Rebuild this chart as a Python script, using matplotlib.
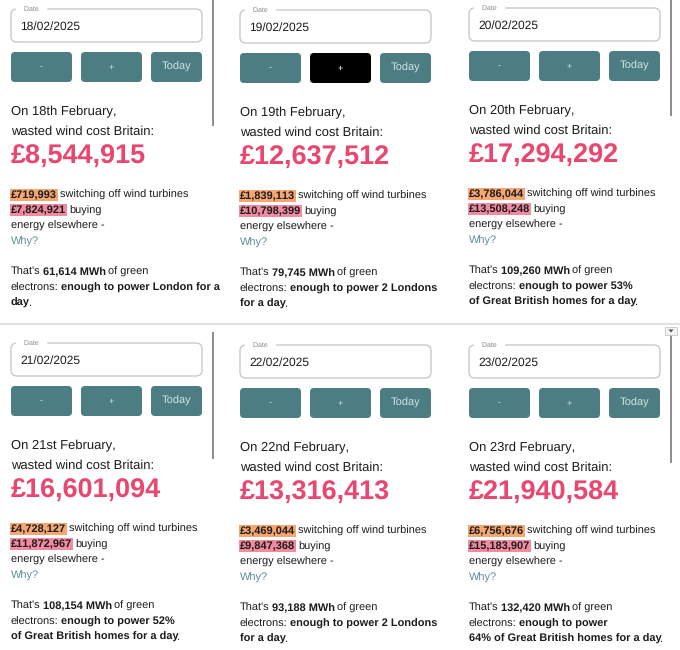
import matplotlib
matplotlib.use('Agg')
import matplotlib.pyplot as plt
from matplotlib.patches import FancyBboxPatch, Rectangle, Polygon

plt.rcParams['font.family'] = ['Liberation Sans', 'DejaVu Sans']
plt.rcParams['text.hinting'] = 'no_hinting'
plt.rcParams['text.hinting_factor'] = 1

# --- data ---
dates = ['18/02/2025', '19/02/2025', '20/02/2025', '21/02/2025', '22/02/2025', '23/02/2025']
day_labels = ['18th', '19th', '20th', '21st', '22nd', '23rd']
total_cost = [8544915, 12637512, 17294292, 16601094, 13316413, 21940584]
switch_off_cost = [719993, 1839113, 3786044, 4728127, 3469044, 6756676]
buying_cost = [7824921, 10798399, 13508248, 11872967, 9847368, 15183907]
mwh = [61614, 79745, 109260, 108154, 93188, 132420]
power_line2 = ['enough to power London for a', 'enough to power 2 Londons', 'enough to power 53%',
               'enough to power 52%', 'enough to power 2 Londons', 'enough to power']
power_line3 = ['day', 'for a day', 'of Great British homes for a day',
               'of Great British homes for a day', 'for a day', '64% of Great British homes for a day']
pressed_button = [None, '+', None, None, None, None]

# panel placement (left edge, top of date box) in pixels
panel_x = [11, 240, 469, 11, 240, 469]
panel_y = [9, 10, 8, 343, 345, 345]
panel_w = 191

TEXT = '#1c1c1c'
TEAL = '#4b7d82'
PINK = '#e8476f'
HL_ORANGE = '#f6a671'
HL_PINK = '#f18ba2'
WHY = '#5d8f94'
BODY = 7.65

fig = plt.figure(figsize=(6.8, 6.5), dpi=100)
ax = fig.add_axes([0, 0, 1, 1])
ax.set_xlim(0, 680)
ax.set_ylim(650, 0)
ax.axis('off')
renderer = fig.canvas.get_renderer()


def measure(s, size, weight):
    t = ax.text(0, 100, s, fontsize=size, weight=weight)
    w = t.get_window_extent(renderer).width
    t.remove()
    return w


def run(x, y, pieces, size=BODY):
    # pieces: (text, weight, colour, highlight)
    for i, (s, weight, col, hl) in enumerate(pieces):
        ax.text(x, y, s, fontsize=size, weight=weight, color=col, va='baseline', ha='left', zorder=3)
        ref = measure('X', size, weight)
        if hl:
            w = measure(s, size, weight)
            ax.add_patch(Rectangle((x - 1, y - 9.5), w + 2, 12, fc=hl, ec='none', zorder=2))
        if i < len(pieces) - 1:
            x += measure(s + ' X', size, weight) - ref - (0.2 if hl else 0.7)
        else:
            x += measure(s + 'X', size, weight) - ref
    return x


def money(v):
    return '£{:,}'.format(v)


for i in range(6):
    x0, y0 = panel_x[i], panel_y[i]

    # date field
    ax.add_patch(FancyBboxPatch((x0, y0), panel_w, 33, boxstyle='round,pad=0,rounding_size=6',
                                fc='white', ec='#c9c9c9', lw=1.0, zorder=1))
    ax.text(x0 + 11, y0 + 0.5, ' Date ', fontsize=4.8, color='#8a8a8a', va='center', ha='left',
            backgroundcolor='white', zorder=2)
    ax.text(x0 + 9, y0 + 20.5, dates[i], fontsize=8.5, color=TEXT, va='baseline', ha='left', zorder=2)

    # buttons
    btns = [('-', 0, 61), ('+', 70, 61), ('Today', 140, 51)]
    for label, dx, bw in btns:
        fc = 'black' if pressed_button[i] == label else TEAL
        tc = 'white' if pressed_button[i] == label else '#d3e2e2'
        ax.add_patch(FancyBboxPatch((x0 + dx, y0 + 43), bw, 30, boxstyle='round,pad=0,rounding_size=4',
                                    fc=fc, ec='none', zorder=1))
        ax.text(x0 + dx + bw / 2, y0 + 58, label, fontsize=7.8 if label == 'Today' else 6.5,
                color=tc, va='center', ha='center', zorder=2)

    # headline
    ax.text(x0, y0 + 106, 'On {} February,'.format(day_labels[i]), fontsize=9.6, color=TEXT, va='baseline')
    ax.text(x0, y0 + 126, 'wasted wind cost Britain:', fontsize=9.6, color=TEXT, va='baseline')
    ax.text(x0 - 0.5, y0 + 154.5, money(total_cost[i]), fontsize=19.5, weight='bold', color=PINK, va='baseline')

    # breakdown
    run(x0, y0 + 189, [(money(switch_off_cost[i]), 'bold', TEXT, HL_ORANGE),
                       ('switching off wind turbines', 'normal', TEXT, None)])
    run(x0, y0 + 204.5, [(money(buying_cost[i]), 'bold', TEXT, HL_PINK),
                         ('buying', 'normal', TEXT, None)])
    ax.text(x0, y0 + 220, 'energy elsewhere -', fontsize=BODY, color=TEXT, va='baseline')
    ax.text(x0, y0 + 235.5, 'Why?', fontsize=BODY, color=WHY, va='baseline')

    # equivalence
    run(x0, y0 + 266, [("That's", 'normal', TEXT, None),
                       ('{:,} MWh'.format(mwh[i]), 'bold', TEXT, None),
                       ('of green', 'normal', TEXT, None)])
    run(x0, y0 + 281.5, [('electrons:', 'normal', TEXT, None),
                         (power_line2[i], 'bold', TEXT, None)])
    xe = run(x0, y0 + 297, [(power_line3[i], 'bold', TEXT, None)])
    ax.text(xe - 1.3, y0 + 297, '.', fontsize=BODY, color=TEXT, va='baseline')

# divider between the two screenshots
ax.plot([0, 680], [324, 324], color='#e2e2e2', lw=1.6, zorder=4)

# scroll bars
ax.plot([213, 213], [0, 125], color='#8c8c8c', lw=1.4, zorder=4)
ax.plot([671, 671], [0, 115], color='#8c8c8c', lw=1.4, zorder=4)
ax.plot([213, 213], [333, 458], color='#8c8c8c', lw=1.4, zorder=4)
ax.plot([671, 671], [336, 462], color='#8c8c8c', lw=1.4, zorder=4)
ax.add_patch(Rectangle((665, 327), 12, 8, fc='#f2f2f2', ec='#c8c8c8', lw=0.6, zorder=4))
ax.add_patch(Polygon([(668.5, 329.5), (673.5, 329.5), (671, 332.5)], closed=True, fc='#555555', ec='none', zorder=5))

fig.savefig('out.png', dpi=100)
